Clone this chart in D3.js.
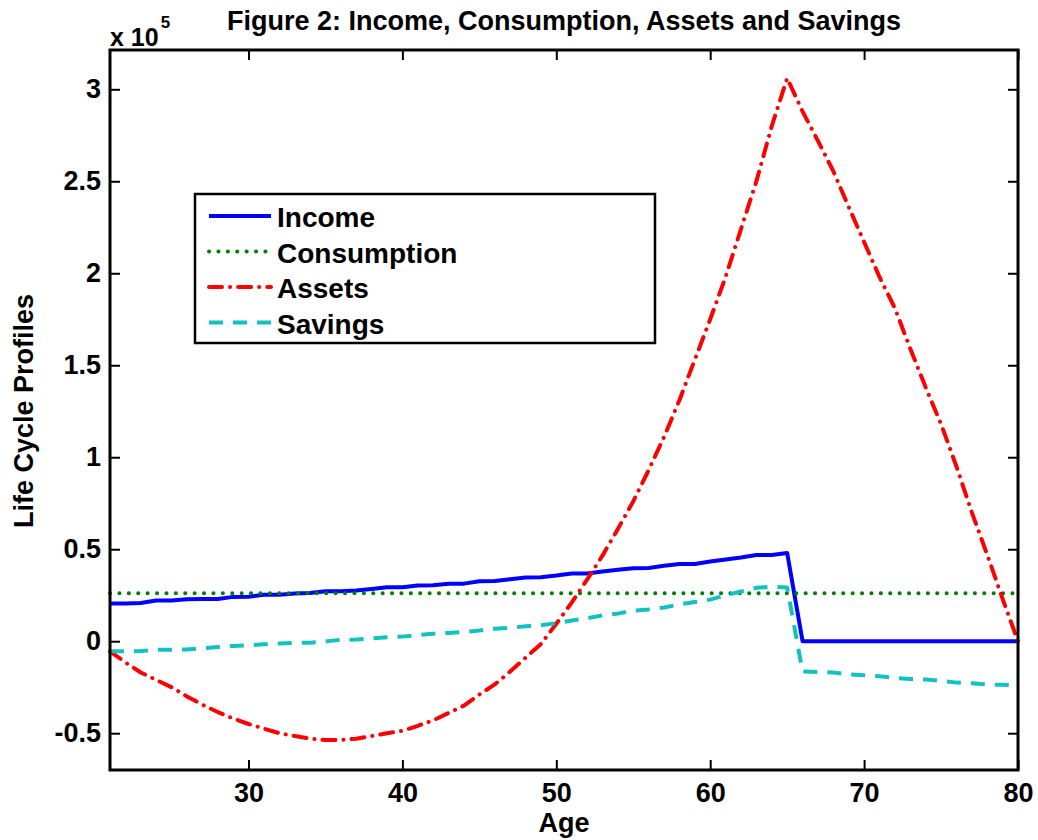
<!DOCTYPE html>
<html>
<head>
<meta charset="utf-8">
<script src="https://cdn.jsdelivr.net/npm/d3@7"></script>
<style>
body { margin: 0; background: #fff; }
text { font-family: "Liberation Sans", Arial, Helvetica, sans-serif; font-weight: bold; fill: #000; }
</style>
</head>
<body>
<div id="chart"></div>
<script>
// values in units of 1e5, one per year of age
const ages = [21, 22, 23, 24, 25, 26, 27, 28, 29, 30,
    31, 32, 33, 34, 35, 36, 37, 38, 39, 40,
    41, 42, 43, 44, 45, 46, 47, 48, 49, 50,
    51, 52, 53, 54, 55, 56, 57, 58, 59, 60,
    61, 62, 63, 64, 65, 66, 67, 68, 69, 70,
    71, 72, 73, 74, 75, 76, 77, 78, 79, 80];

const income = [0.205, 0.205, 0.208, 0.221, 0.221, 0.228, 0.230, 0.230, 0.241, 0.242,
    0.252, 0.253, 0.259, 0.262, 0.272, 0.272, 0.276, 0.284, 0.293, 0.293,
    0.303, 0.304, 0.312, 0.313, 0.326, 0.327, 0.337, 0.346, 0.348, 0.357,
    0.368, 0.368, 0.379, 0.388, 0.397, 0.398, 0.410, 0.420, 0.420, 0.433,
    0.444, 0.455, 0.469, 0.469, 0.480, 0, 0, 0, 0, 0,
    0, 0, 0, 0, 0, 0, 0, 0, 0, 0];

const consumption = [0.261, 0.261, 0.261, 0.261, 0.261, 0.261, 0.261, 0.261, 0.261, 0.261,
    0.261, 0.261, 0.261, 0.261, 0.261, 0.261, 0.261, 0.261, 0.261, 0.261,
    0.261, 0.261, 0.261, 0.261, 0.261, 0.261, 0.261, 0.261, 0.261, 0.261,
    0.261, 0.261, 0.261, 0.261, 0.261, 0.261, 0.261, 0.261, 0.261, 0.261,
    0.261, 0.261, 0.261, 0.261, 0.261, 0.261, 0.261, 0.261, 0.261, 0.261,
    0.261, 0.261, 0.261, 0.261, 0.261, 0.261, 0.261, 0.261, 0.261, 0.261];

const assets = [-0.055, -0.115, -0.170, -0.210, -0.250, -0.300, -0.345, -0.385, -0.420, -0.450,
    -0.475, -0.500, -0.515, -0.530, -0.537, -0.536, -0.530, -0.515, -0.500, -0.487,
    -0.460, -0.430, -0.390, -0.350, -0.290, -0.235, -0.165, -0.090, -0.015, 0.095,
    0.210, 0.335, 0.465, 0.610, 0.760, 0.930, 1.110, 1.310, 1.530, 1.750,
    1.980, 2.240, 2.500, 2.800, 3.060, 2.880, 2.720, 2.555, 2.360, 2.170,
    1.980, 1.810, 1.590, 1.380, 1.180, 0.950, 0.700, 0.470, 0.230, 0.000];

const savings = [-0.054, -0.055, -0.053, -0.047, -0.046, -0.045, -0.038, -0.032, -0.026, -0.023,
    -0.017, -0.013, -0.009, -0.008, -0.001, 0.008, 0.009, 0.015, 0.022, 0.025,
    0.034, 0.041, 0.045, 0.050, 0.058, 0.068, 0.073, 0.081, 0.087, 0.098,
    0.113, 0.125, 0.140, 0.150, 0.166, 0.173, 0.183, 0.200, 0.213, 0.226,
    0.250, 0.270, 0.290, 0.296, 0.292, -0.165, -0.167, -0.170, -0.180, -0.185,
    -0.190, -0.200, -0.205, -0.208, -0.215, -0.225, -0.228, -0.235, -0.237, -0.240];

const xTicks = [30, 40, 50, 60, 70, 80];
const yTicks = [-0.5, 0, 0.5, 1, 1.5, 2, 2.5, 3];
const seriesNames = ["Income", "Consumption", "Assets", "Savings"];

// line styles (matlab-like)
const styles = [
    {values: income, color: "#0000ff", dash: null, cap: "butt"},
    {values: consumption, color: "#008000", dash: "0.1 9.3", cap: "round"},
    {values: assets, color: "#ff0000", dash: "13 8 0.1 8", cap: "round"},
    {values: savings, color: "#12c2c2", dash: "14 10", cap: "butt"}
];

const totalW = 1038, totalH = 840;
const margin = {top: 50, right: 20, bottom: 70, left: 110};
const width = totalW - margin.left - margin.right;
const height = totalH - margin.top - margin.bottom;

const svg = d3.select("#chart").append("svg")
    .attr("width", totalW)
    .attr("height", totalH);

const g = svg.append("g")
    .attr("transform", `translate(${margin.left}, ${margin.top})`);

const x = d3.scaleLinear().domain([21, 80]).range([0, width]);
const y = d3.scaleLinear().domain([-0.7, 3.2136]).range([height, 0]);

// axes, ticks pointing inward on all four sides
const fmt = d => String(d);
g.append("g")
    .attr("class", "axis")
    .attr("transform", `translate(0, ${height})`)
    .call(d3.axisBottom(x).tickValues(xTicks).tickSize(-10).tickPadding(13).tickFormat(fmt));
g.append("g")
    .attr("class", "axis")
    .call(d3.axisTop(x).tickValues(xTicks).tickSize(-10).tickFormat(""));
g.append("g")
    .attr("class", "axis")
    .call(d3.axisLeft(y).tickValues(yTicks).tickSize(-10).tickPadding(9).tickFormat(fmt));
g.append("g")
    .attr("class", "axis")
    .attr("transform", `translate(${width}, 0)`)
    .call(d3.axisRight(y).tickValues(yTicks).tickSize(-10).tickFormat(""));

g.selectAll(".axis .domain").remove();
g.selectAll(".axis line").attr("stroke", "#000").attr("stroke-width", 2);
g.selectAll(".axis text")
    .style("font-size", "27px")
    .style("font-family", "'Liberation Sans', Arial, sans-serif")
    .style("font-weight", "bold")
    .attr("fill", "#000");

// data lines
const line = d3.line()
    .x((d, i) => x(ages[i]))
    .y(d => y(d));

styles.forEach(s => {
    g.append("path")
        .datum(s.values)
        .attr("d", line)
        .attr("fill", "none")
        .attr("stroke", s.color)
        .attr("stroke-width", 4)
        .attr("stroke-linecap", s.cap)
        .attr("stroke-linejoin", "round")
        .attr("stroke-dasharray", s.dash);
});

// axes box
g.append("rect")
    .attr("width", width)
    .attr("height", height)
    .attr("fill", "none")
    .attr("stroke", "#000")
    .attr("stroke-width", 3);

// legend
const legend = svg.append("g").attr("transform", "translate(195, 194)");
legend.append("rect")
    .attr("width", 460)
    .attr("height", 149)
    .attr("fill", "#fff")
    .attr("stroke", "#000")
    .attr("stroke-width", 2.5);

const rowH = 35.5;
seriesNames.forEach((name, i) => {
    const cy = 22 + i * rowH;
    legend.append("line")
        .attr("x1", 14).attr("x2", 76)
        .attr("y1", cy).attr("y2", cy)
        .attr("stroke", styles[i].color)
        .attr("stroke-width", 4)
        .attr("stroke-linecap", styles[i].cap)
        .attr("stroke-dasharray", styles[i].dash);
    legend.append("text")
        .attr("x", 82)
        .attr("y", cy + 11)
        .style("font-size", "28px")
        .text(name);
});

// titles and labels
svg.append("text")
    .attr("x", margin.left + width / 2)
    .attr("y", 30)
    .attr("text-anchor", "middle")
    .style("font-size", "27px")
    .text("Figure 2: Income, Consumption, Assets and Savings");

svg.append("text")
    .attr("x", margin.left + width / 2)
    .attr("y", 832)
    .attr("text-anchor", "middle")
    .style("font-size", "27px")
    .text("Age");

svg.append("text")
    .attr("transform", `translate(33, 411) rotate(-90)`)
    .attr("text-anchor", "middle")
    .style("font-size", "27px")
    .text("Life Cycle Profiles");

const expo = svg.append("text")
    .attr("x", 110)
    .attr("y", 46)
    .style("font-size", "25px");
expo.append("tspan").text("x 10");
expo.append("tspan")
    .attr("dy", -18)
    .attr("dx", 2)
    .style("font-size", "17px")
    .text("5");
</script>
</body>
</html>
